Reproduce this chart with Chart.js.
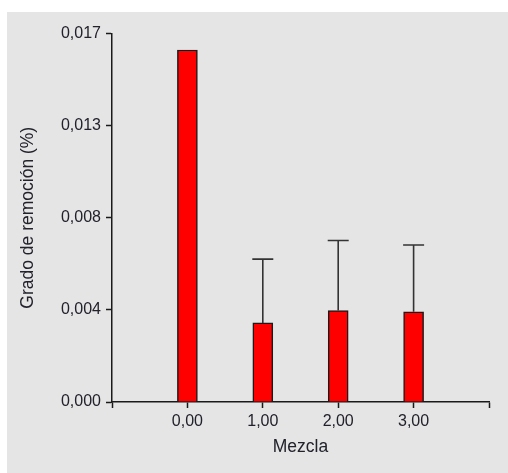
<!DOCTYPE html>
<html>
<head>
<meta charset="utf-8">
<script src="https://cdn.jsdelivr.net/npm/chart.js@4/dist/chart.umd.min.js"></script>
<style>
  html, body { margin: 0; padding: 0; background: #ffffff; }
  #frame {
    position: absolute; left: 7px; top: 12px;
    width: 501px; height: 461px;
    background: #e5e5e5;
  }
</style>
</head>
<body>
<div id="frame"><canvas id="c" width="501" height="461"></canvas></div>
<script>
// Mezcla groups and their removal degree (%)
const categories = [0, 1, 2, 3];
const categoryLabels = ['0,00', '1,00', '2,00', '3,00'];
const means = [0.01624, 0.00365, 0.00422, 0.00416];
// upper end of each error bar (null = no bar)
const upperErrors = [null, 0.00659, 0.00745, 0.00724];

const yTickValues = [0, 0.00425, 0.0085, 0.01275, 0.017];
const yTickLabels = ['0,000', '0,004', '0,008', '0,013', '0,017'];
const xTickValues = [-1, 0, 1, 2, 3, 4];

const axisColor = '#1a1a1a';
const textColor = '#22222c';
const fontFamily = 'Liberation Sans, Arial, sans-serif';

const errorBars = {
  id: 'errorBars',
  afterDatasetsDraw(chart) {
    const meta = chart.getDatasetMeta(0);
    const y = chart.scales.y;
    const ctx = chart.ctx;
    ctx.save();
    ctx.strokeStyle = '#333333';
    ctx.lineWidth = 1.6;
    meta.data.forEach((bar, i) => {
      const up = upperErrors[i];
      if (up == null) return;
      const yTop = y.getPixelForValue(up);
      ctx.beginPath();
      ctx.moveTo(bar.x, bar.y);
      ctx.lineTo(bar.x, yTop);
      ctx.moveTo(bar.x - 10.5, yTop);
      ctx.lineTo(bar.x + 10.5, yTop);
      ctx.stroke();
    });
    ctx.restore();
  }
};

new Chart(document.getElementById('c'), {
  type: 'bar',
  data: {
    datasets: [{
      data: categories.map((c, i) => ({ x: c, y: means[i] })),
      backgroundColor: '#ff0000',
      borderColor: axisColor,
      borderWidth: 1.5,
      barThickness: 20
    }]
  },
  options: {
    responsive: false,
    animation: false,
    layout: { padding: { left: 0, top: 21.5, right: 19, bottom: 0 } },
    plugins: { legend: { display: false }, tooltip: { enabled: false } },
    scales: {
      x: {
        type: 'linear',
        offset: false,
        min: -1, max: 4,
        afterBuildTicks(scale) { scale.ticks = xTickValues.map(v => ({ value: v })); },
        afterFit(scale) { scale.height = 71; },
        grid: { offset: false, drawOnChartArea: false, drawTicks: true, tickLength: 6, color: axisColor, tickWidth: 1.5 },
        border: { display: true, color: axisColor, width: 1.5 },
        ticks: {
          padding: 3.5,
          color: textColor,
          font: { family: fontFamily, size: 16 },
          maxRotation: 0,
          autoSkip: false,
          callback(v) {
            const i = categories.indexOf(v);
            return i >= 0 ? categoryLabels[i] : '';
          }
        },
        title: {
          display: true, text: 'Mezcla', color: textColor,
          font: { family: fontFamily, size: 17.5 },
          padding: { top: 0, bottom: 15 }
        }
      },
      y: {
        min: 0, max: 0.017,
        afterBuildTicks(scale) { scale.ticks = yTickValues.map(v => ({ value: v })); },
        afterFit(scale) { scale.width = 105; },
        grid: { drawOnChartArea: false, drawTicks: true, tickLength: 6, color: axisColor, tickWidth: 1.5 },
        border: { display: true, color: axisColor, width: 1.5 },
        ticks: {
          padding: 5,
          color: textColor,
          font: { family: fontFamily, size: 16 },
          callback(v, i) { return yTickLabels[i]; }
        },
        title: {
          display: true, text: 'Grado de remoción (%)', color: textColor,
          font: { family: fontFamily, size: 17.5 },
          padding: { top: 10.5, bottom: 0 }
        }
      }
    }
  },
  plugins: [errorBars]
});
</script>
</body>
</html>
